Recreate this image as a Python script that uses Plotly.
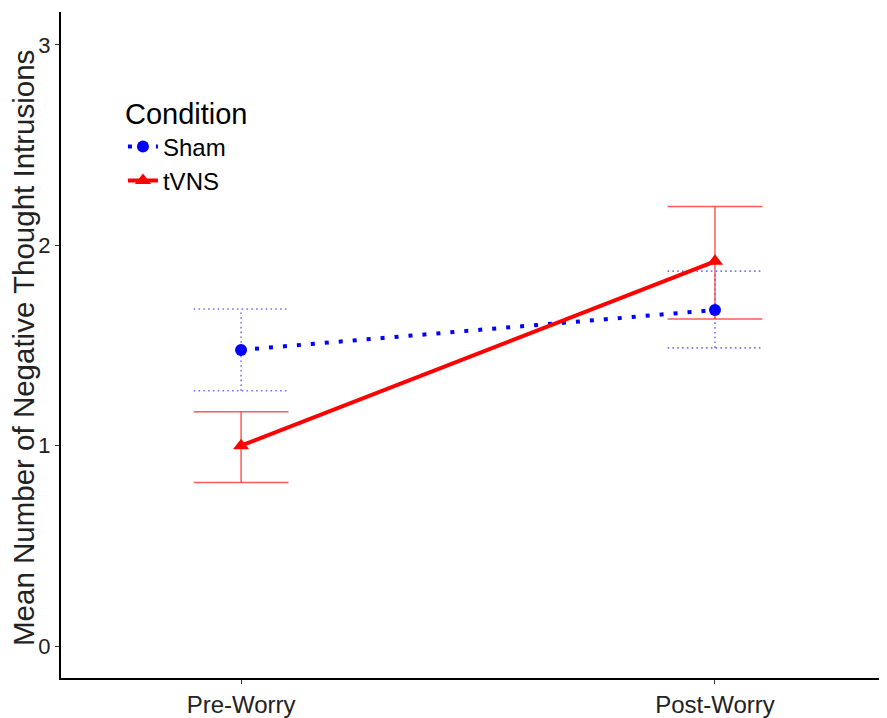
import plotly.graph_objects as go

categories = ["Pre-Worry", "Post-Worry"]
x_pos = [1, 2]
sham_mean = [1.478, 1.677]
sham_lo = [1.274, 1.488]
sham_hi = [1.682, 1.871]
tvns_mean = [1.0, 1.92]
tvns_lo = [0.816, 1.632]
tvns_hi = [1.169, 2.194]
y_ticks = [0, 1, 2, 3]
y_title = "Mean Number of Negative Thought Intrusions"

CAP = 0.1

def err_segments(xs, lo, hi):
    ex, ey = [], []
    for x, l, h in zip(xs, lo, hi):
        ex += [x, x, None, x - CAP, x + CAP, None, x - CAP, x + CAP, None]
        ey += [l, h, None, h, h, None, l, l, None]
    return ex, ey

fig = go.Figure()

sx, sy = err_segments(x_pos, sham_lo, sham_hi)
fig.add_trace(go.Scatter(x=sx, y=sy, mode="lines", showlegend=False, hoverinfo="skip",
                         line=dict(color="rgba(70,70,255,0.75)", width=1.6, dash="1.6px,3.2px")))
tx, ty = err_segments(x_pos, tvns_lo, tvns_hi)
fig.add_trace(go.Scatter(x=tx, y=ty, mode="lines", showlegend=False, hoverinfo="skip",
                         line=dict(color="rgba(255,60,60,0.85)", width=1.5)))

fig.add_trace(go.Scatter(x=x_pos, y=sham_mean, mode="lines+markers", name="Sham",
                         line=dict(color="#0000FF", width=4, dash="4px,10px"),
                         marker=dict(symbol="circle", size=12, color="#0000FF")))
fig.add_trace(go.Scatter(x=x_pos, y=tvns_mean, mode="lines+markers", name="tVNS",
                         line=dict(color="#FF0000", width=4),
                         marker=dict(symbol="triangle-up", size=14, color="#FF0000")))

fig.add_annotation(text=y_title, xref="paper", yref="paper", x=0, y=0.5,
                   xanchor="center", yanchor="middle", textangle=-90,
                   xshift=-38, yshift=-3, showarrow=False,
                   font=dict(size=29.5, color="#222222"))

fig.update_layout(
    width=879, height=710,
    margin=dict(l=53, r=0, t=4, b=38),
    paper_bgcolor="white", plot_bgcolor="white",
    font=dict(family="Liberation Sans, Arial, sans-serif", color="black"),
    legend=dict(title=dict(text="Condition", font=dict(size=29)),
                font=dict(size=24), x=0.075, y=0.888, xanchor="left", yanchor="top",
                bgcolor="rgba(0,0,0,0)", tracegroupgap=0, itemwidth=30),
    xaxis=dict(range=[0.62, 2.363], tickvals=x_pos, ticktext=categories,
               showgrid=False, zeroline=False, showline=True, linecolor="black", linewidth=2,
               ticks="outside", ticklen=4, tickcolor="#333333",
               tickfont=dict(size=24, color="#222222")),
    yaxis=dict(range=[-0.159, 3.164], tickvals=y_ticks,
               showgrid=False, zeroline=False, showline=True, linecolor="black", linewidth=2,
               ticks="outside", ticklen=4, tickcolor="#333333",
               tickfont=dict(size=22, color="#222222")),
)

fig.write_html("out.html")
